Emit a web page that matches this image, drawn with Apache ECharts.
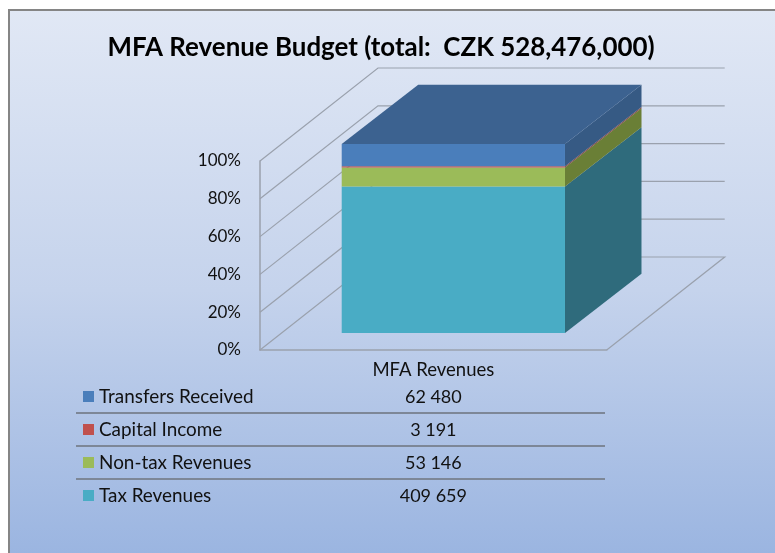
<!DOCTYPE html>
<html><head><meta charset="utf-8">
<style>html,body{margin:0;padding:0;background:#fff}#c{width:775px;height:553px}</style>
<script src="https://cdn.jsdelivr.net/npm/echarts@6/dist/echarts.min.js"></script>
</head><body><div id="c"></div>
<script>
const titleText = 'MFA Revenue Budget (total:  CZK 528,476,000)';
const category = 'MFA Revenues';
const seriesNames = ['Tax Revenues', 'Non-tax Revenues', 'Capital Income', 'Transfers Received'];
const seriesValues = [409659, 53146, 3191, 62480];
const frontColors = ['#49acc5', '#9bbb59', '#c0504d', '#4a7ebb'];
const sideColors = ['#2f6b7c', '#6a7f36', '#854a42', '#365a84'];
const topColor = '#3c6290';
const yTicks = [0, 20, 40, 60, 80, 100];

const font = 'Lato';
const G = {x: 260, y: 161, w: 346.7, h: 189};
const wall = {dx: 118, dy: -93};
const barFront = {dx: 20, dy: -17};
const barDepth = {dx: 76.5, dy: -59.3};
const barRatio = 0.644;
const total = seriesValues.reduce((a, b) => a + b, 0);
const lineColor = '#9aa1ad';

let acc = 0;
const stacks = seriesValues.map(v => { const b = acc; acc += v / total * 100; return [0, b, acc]; });

function wallItem(params, api) {
  const cs = params.coordSys;
  const v = api.value(0);
  const y = api.coord([0, v])[1];
  const style = {stroke: lineColor, lineWidth: 1.2, fill: null};
  const pts = [[cs.x, y], [cs.x + wall.dx, y + wall.dy], [cs.x + wall.dx + cs.width, y + wall.dy]];
  if (v === 0) pts.push([cs.x + cs.width, y]);
  return {type: 'polyline', shape: {points: pts}, style, silent: true};
}

function barItem(idx, isTop) {
  return function (params, api) {
    const lo = api.coord([0, api.value(1)]);
    const hi = api.coord([0, api.value(2)]);
    const w = api.size([1, 0])[0] * barRatio;
    const xl = lo[0] - w / 2 + barFront.dx, xr = xl + w;
    const yb = lo[1] + barFront.dy, yt = hi[1] + barFront.dy;
    const d = barDepth;
    const children = [
      {type: 'polygon', shape: {points: [[xr, yb], [xr + d.dx, yb + d.dy], [xr + d.dx, yt + d.dy], [xr, yt]]}, style: {fill: sideColors[idx]}},
      {type: 'rect', shape: {x: xl, y: yt, width: w, height: yb - yt}, style: {fill: frontColors[idx]}}
    ];
    if (isTop) children.push({type: 'polygon', shape: {points: [[xl, yt], [xl + d.dx, yt + d.dy], [xr + d.dx, yt + d.dy], [xr, yt]]}, style: {fill: topColor}});
    return {type: 'group', children};
  };
}

const series = [{
  type: 'custom', name: 'walls', silent: true, z: 1,
  renderItem: wallItem, data: yTicks.map(t => [t]), encode: {y: 0}
}];
seriesNames.forEach((n, i) => series.push({
  type: 'custom', name: n, z: 3, itemStyle: {color: frontColors[i]},
  renderItem: barItem(i, i === seriesNames.length - 1),
  data: [stacks[i]], encode: {x: 0, y: [1, 2]}
}));

const rowTop = 396, rowGap = 33;
const fmt = v => String(v).replace(/\B(?=(\d{3})+$)/g, ' ');
const legendOrder = seriesNames.slice().reverse();
const graphic = [{
  type: 'rect', z: -10, silent: true,
  shape: {x: 9, y: 10, width: 780, height: 560},
  style: {
    stroke: '#858585', lineWidth: 2,
    fill: {type: 'linear', x: 0, y: 0, x2: 0, y2: 1, colorStops: [{offset: 0, color: '#e1e8f5'}, {offset: 0.5, color: '#c5d3ec'}, {offset: 1, color: '#98b3e0'}]}
  }
}];
legendOrder.forEach((n, i) => {
  const v = seriesValues[seriesNames.indexOf(n)];
  graphic.push({type: 'text', silent: true, style: {text: fmt(v), x: G.x + G.w / 2, y: rowTop + 1 + i * rowGap, align: 'center', verticalAlign: 'middle', font: '18px ' + font, fill: '#111'}});
  if (i < legendOrder.length - 1) graphic.push({type: 'line', silent: true, shape: {x1: 76, y1: rowTop + i * rowGap + 17, x2: 605, y2: rowTop + i * rowGap + 17}, style: {stroke: '#7d8797', lineWidth: 2}});
});

const chart = echarts.init(document.getElementById('c'), null, {renderer: 'canvas'});
chart.setOption({
  animation: false,
  textStyle: {fontFamily: font},
  title: {text: titleText, left: 376, textAlign: 'center', top: 30, textStyle: {fontFamily: font, fontWeight: 'bold', fontSize: 25.9, color: '#000'}},
  grid: {left: G.x, top: G.y, width: G.w, height: G.h},
  xAxis: {type: 'category', data: [category], axisTick: {show: false}, axisLine: {lineStyle: {color: lineColor, width: 1.5}}, axisLabel: {color: '#111', fontSize: 18.5, margin: 11}, splitLine: {show: false}},
  yAxis: {type: 'value', min: 0, max: 100, interval: 20, axisTick: {show: false}, axisLine: {show: true, lineStyle: {color: lineColor, width: 1.5}}, splitLine: {show: false}, axisLabel: {color: '#111', fontSize: 17, margin: 19, padding: [4, 0, 0, 0], formatter: '{value}%'}},
  legend: {data: legendOrder, orient: 'vertical', left: 78, top: rowTop - 9, itemWidth: 11, itemHeight: 11, itemGap: 14, icon: 'rect', textStyle: {fontFamily: font, fontSize: 18.9, color: '#111', padding: [0, 0, 0, 0], height: 16, lineHeight: 16}, selectedMode: false, padding: [0, 0, 0, 5]},
  graphic,
  series
});
</script></body></html>
